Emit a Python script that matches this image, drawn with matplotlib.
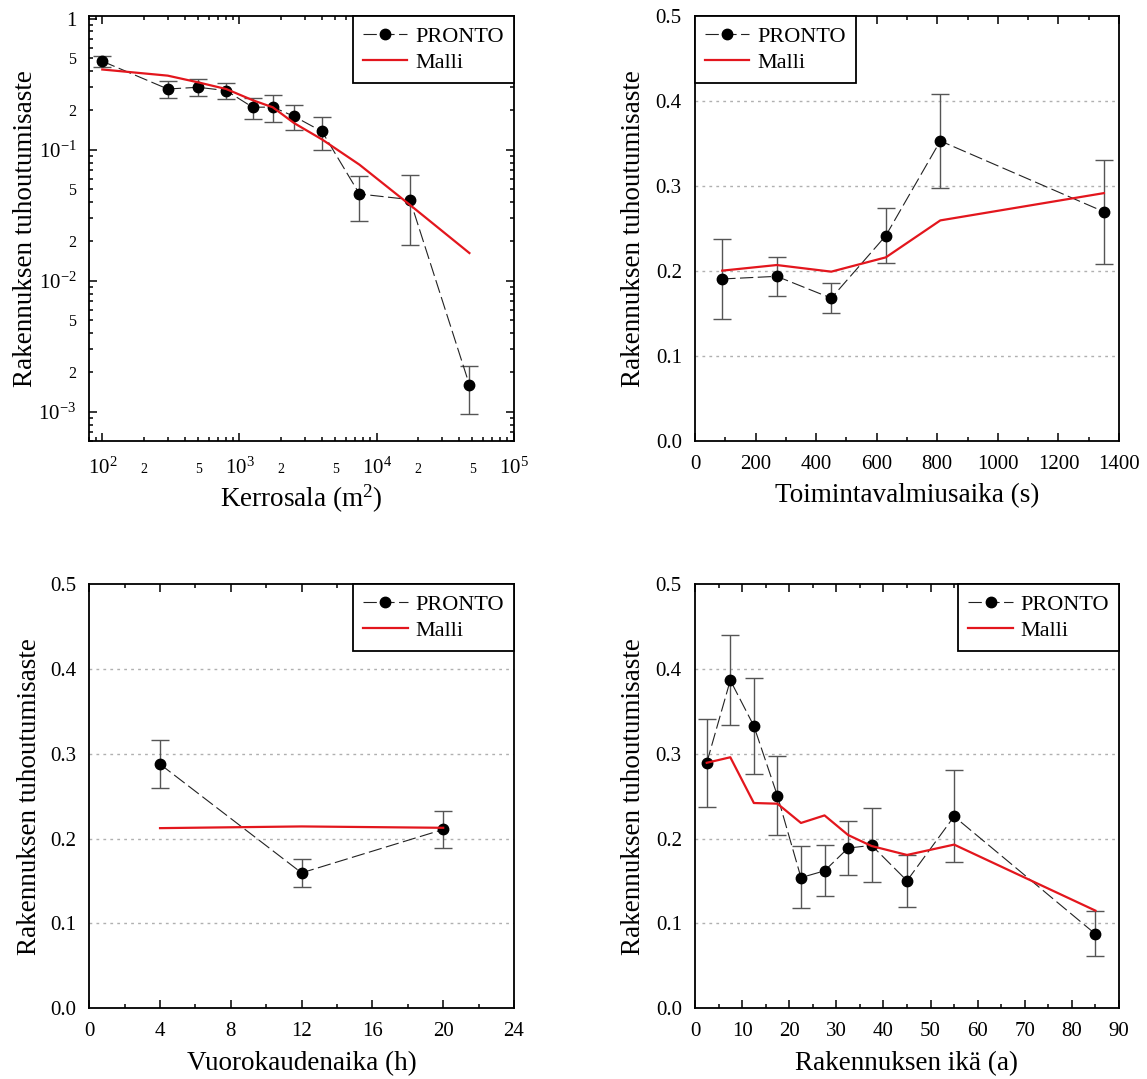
import numpy as np
import matplotlib
matplotlib.use('Agg')
import matplotlib.pyplot as plt
from matplotlib.ticker import FixedLocator, FixedFormatter, MultipleLocator

plt.rcParams['font.family'] = ['Liberation Serif', 'DejaVu Serif']
plt.rcParams['mathtext.fontset'] = 'custom'
plt.rcParams['mathtext.rm'] = 'Liberation Serif'
plt.rcParams['mathtext.it'] = 'Liberation Serif:italic'
plt.rcParams['mathtext.default'] = 'regular'

# ---- data ----
area_x = [100, 300, 500, 800, 1250, 1750, 2500, 4000, 7500, 17500, 47500]
area_y = [0.474, 0.291, 0.300, 0.283, 0.211, 0.212, 0.180, 0.138, 0.046, 0.0417, 0.00161]
area_lo = [0.429, 0.248, 0.259, 0.246, 0.173, 0.162, 0.141, 0.099, 0.0285, 0.0188, 0.00097]
area_hi = [0.524, 0.333, 0.345, 0.324, 0.248, 0.262, 0.220, 0.178, 0.0636, 0.0647, 0.00224]
area_model = [0.41, 0.368, 0.327, 0.291, 0.239, 0.211, 0.160, 0.120, 0.077, 0.038, 0.0163]

resp_x = [90, 270, 450, 630, 810, 1350]
resp_y = [0.1906, 0.1937, 0.168, 0.2415, 0.353, 0.2697]
resp_lo = [0.1436, 0.171, 0.151, 0.209, 0.298, 0.2086]
resp_hi = [0.2376, 0.216, 0.1863, 0.2744, 0.408, 0.3307]
resp_model = [0.2004, 0.207, 0.1992, 0.216, 0.2595, 0.2916]

hour_x = [4, 12, 20]
hour_y = [0.2877, 0.1596, 0.2107]
hour_lo = [0.2601, 0.1434, 0.1888]
hour_hi = [0.3156, 0.1754, 0.2326]
hour_model = [0.2123, 0.2143, 0.2127]

age_x = [2.5, 7.5, 12.5, 17.5, 22.5, 27.5, 32.5, 37.5, 45, 55, 85]
age_y = [0.2893, 0.3865, 0.3327, 0.2504, 0.154, 0.162, 0.1888, 0.192, 0.1503, 0.2261, 0.0875]
age_lo = [0.2374, 0.3339, 0.2759, 0.2042, 0.1179, 0.1329, 0.1572, 0.1483, 0.1199, 0.1722, 0.0612]
age_hi = [0.3412, 0.4396, 0.3894, 0.2978, 0.1908, 0.192, 0.2204, 0.2366, 0.181, 0.2804, 0.1143]
age_model = [0.2893, 0.2958, 0.2419, 0.2411, 0.2184, 0.2273, 0.2042, 0.1912, 0.1807, 0.1929, 0.1151]

ylabel = "Rakennuksen tuhoutumisaste"
labels = ["PRONTO", "Malli"]

TICK_FS = 15
LABEL_FS = 19.5
LEG_FS = 16
RED = '#e3161d'

fig = plt.figure(figsize=(11.47, 10.79), dpi=100)


def draw(ax, x, y, lo, hi, model):
    x = np.asarray(x); y = np.asarray(y)
    yerr = [y - np.asarray(lo), np.asarray(hi) - y]
    ax.errorbar(x, y, yerr=yerr, fmt='none', ecolor='#555555', elinewidth=1.0,
                capsize=6.5, capthick=1.0, zorder=2)
    ax.plot(x, y, color='#222222', lw=0.8, dashes=(12, 4), marker='o', ms=7.5,
            mfc='black', mec='black', label=labels[0], zorder=3)
    ax.plot(x, model, color=RED, lw=1.6, label=labels[1], zorder=4)
    for s in ax.spines.values():
        s.set_linewidth(1.3)


def legend(ax, loc):
    leg = ax.legend(loc=loc, fontsize=LEG_FS, frameon=True, fancybox=False,
                    edgecolor='black', framealpha=1, borderaxespad=0,
                    handlelength=2.0, handletextpad=0.35, borderpad=0.45,
                    labelspacing=0.25)
    leg.get_frame().set_linewidth(1.3)


def linear_style(ax, xmax, xmaj, xmin_step, xlabel, ylpad):
    ax.set_xlim(0, xmax)
    ax.set_ylim(0, 0.5)
    ax.xaxis.set_major_locator(MultipleLocator(xmaj))
    ax.xaxis.set_minor_locator(MultipleLocator(xmin_step))
    ax.yaxis.set_major_locator(MultipleLocator(0.1))
    ax.yaxis.set_major_formatter(matplotlib.ticker.FormatStrFormatter('%.1f'))
    ax.tick_params(axis='x', which='both', direction='in', top=True, bottom=True,
                   labelsize=TICK_FS, pad=10, width=1.1)
    ax.tick_params(axis='x', which='major', length=6)
    ax.tick_params(axis='x', which='minor', length=3)
    ax.tick_params(axis='y', which='both', length=0, labelsize=TICK_FS, pad=9.5)
    for yv in [0.1, 0.2, 0.3, 0.4]:
        ax.axhline(yv, color='#b0b0b0', lw=1.0, ls=(0, (2, 3)), zorder=1)
    ax.set_xlabel(xlabel, fontsize=LABEL_FS, labelpad=7)
    ax.set_ylabel(ylabel, fontsize=LABEL_FS, labelpad=ylpad)


# ---- top-left: log-log ----
ax1 = fig.add_axes([0.0776, 0.5913, 0.3703, 0.3939])
draw(ax1, area_x, area_y, area_lo, area_hi, area_model)
ax1.set_xscale('log'); ax1.set_yscale('log')
ax1.set_xlim(80, 1e5)
ax1.set_ylim(6e-4, 1.05)
ax1.xaxis.set_major_locator(FixedLocator([1e2, 1e3, 1e4, 1e5]))
ax1.xaxis.set_major_formatter(FixedFormatter(['$10^2$', '$10^3$', '$10^4$', '$10^5$']))
xminor = [m * 10 ** e for e in [1, 2, 3, 4] for m in range(2, 10) if 80 <= m * 10 ** e <= 1e5]
ax1.xaxis.set_minor_locator(FixedLocator(xminor))
xlabs = []
for v in xminor:
    m = round(v / 10 ** np.floor(np.log10(v) + 1e-9))
    xlabs.append(str(m) if (m in (2, 5) and v >= 200) else '')
ax1.xaxis.set_minor_formatter(FixedFormatter(xlabs))
ax1.yaxis.set_major_locator(FixedLocator([1e-3, 1e-2, 1e-1, 1]))
ax1.yaxis.set_major_formatter(FixedFormatter(['$10^{-3}$', '$10^{-2}$', '$10^{-1}$', '1']))
yminor = [m * 10.0 ** e for e in [-4, -3, -2, -1] for m in range(2, 10) if 6e-4 <= m * 10.0 ** e <= 1.05]
ax1.yaxis.set_minor_locator(FixedLocator(yminor))
ylabs = []
for v in yminor:
    m = round(v / 10 ** np.floor(np.log10(v) + 1e-9))
    ylabs.append(str(m) if m in (2, 5) else '')
ax1.yaxis.set_minor_formatter(FixedFormatter(ylabs))
ax1.tick_params(which='both', direction='in', top=True, right=True, width=1.1)
ax1.tick_params(which='major', length=6, labelsize=TICK_FS)
ax1.tick_params(which='minor', length=3)
ax1.tick_params(axis='x', which='minor', labelsize=10)
ax1.tick_params(axis='y', which='minor', labelsize=11.5)
ax1.tick_params(axis='x', which='major', pad=12)
ax1.tick_params(axis='x', which='minor', pad=16)
ax1.tick_params(axis='y', which='both', pad=9)
ax1.set_xlabel('Kerrosala (m$^2$)', fontsize=LABEL_FS, labelpad=3)
ax1.set_ylabel(ylabel, fontsize=LABEL_FS, labelpad=0)
legend(ax1, 'upper right')

# ---- top-right ----
ax2 = fig.add_axes([0.6059, 0.5913, 0.3697, 0.3939])
draw(ax2, resp_x, resp_y, resp_lo, resp_hi, resp_model)
linear_style(ax2, 1400, 200, 100, 'Toimintavalmiusaika (s)', 7)
legend(ax2, 'upper left')

# ---- bottom-left ----
ax3 = fig.add_axes([0.0778, 0.0655, 0.3703, 0.3933])
draw(ax3, hour_x, hour_y, hour_lo, hour_hi, hour_model)
linear_style(ax3, 24, 4, 2, 'Vuorokaudenaika (h)', 5.5)
legend(ax3, 'upper right')

# ---- bottom-right ----
ax4 = fig.add_axes([0.6059, 0.0655, 0.3697, 0.3933])
draw(ax4, age_x, age_y, age_lo, age_hi, age_model)
linear_style(ax4, 90, 10, 5, 'Rakennuksen ikä (a)', 7)
legend(ax4, 'upper right')

fig.savefig('out.png', dpi=100)
